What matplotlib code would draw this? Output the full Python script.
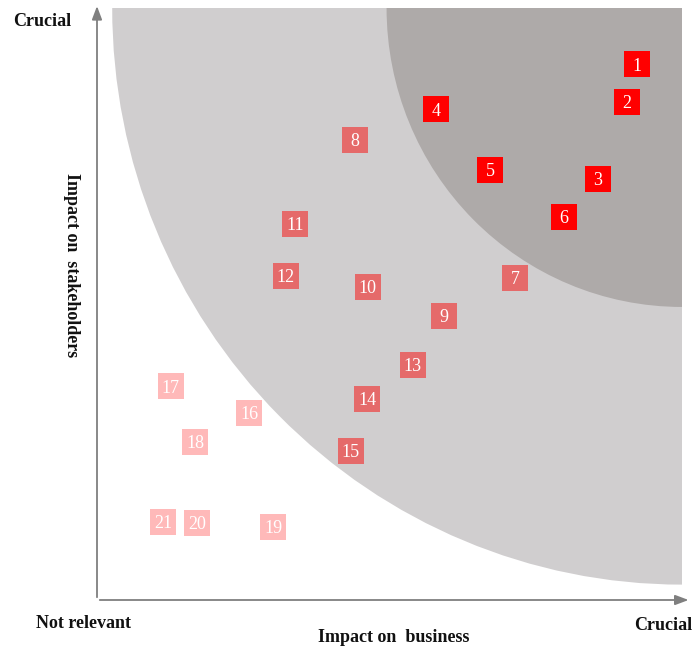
import matplotlib.pyplot as plt
from matplotlib.patches import Wedge

# issue ids and their position (impact on business, impact on stakeholders)
labels = [str(i) for i in range(1, 22)]
business = [9.23, 9.06, 8.56, 5.79, 6.72, 7.98, 7.15, 4.41, 5.93, 4.63, 3.38,
            3.23, 5.40, 4.62, 4.34, 2.60, 1.26, 1.68, 3.01, 1.71, 1.13]
stakeholders = [9.05, 8.41, 7.11, 8.29, 7.26, 6.47, 5.44, 7.77, 4.80, 5.29, 6.35,
                5.47, 3.97, 3.40, 2.52, 3.16, 3.61, 2.67, 1.23, 1.30, 1.32]
# priority group: 0 = high, 1 = medium, 2 = low
group = [0] * 6 + [1] * 9 + [2] * 6
group_colors = ['#FF0000', '#E56A6A', '#FFB9B9']


def main():
    fig = plt.figure(figsize=(6.99, 6.55), dpi=100)
    W, H = 699, 655
    # axes origin at px (97, 600), x=10 at px 682, y=10 at px 8
    ax = fig.add_axes([97 / W, 1 - 600 / H, (682 - 97) / W, (600 - 8) / H])
    ax.set_xlim(0, 10)
    ax.set_ylim(0, 10)
    ax.axis('off')

    # quarter-circle zones around the top-right corner
    ax.add_patch(Wedge((10, 10), 9.74, 180, 270, facecolor='#D0CECF', edgecolor='none', zorder=1))
    ax.add_patch(Wedge((10, 10), 5.05, 180, 270, facecolor='#AEAAA9', edgecolor='none', zorder=2))

    # axes arrows
    arrow = dict(arrowstyle='-|>,head_length=0.8,head_width=0.3', color='#7F7F7F', lw=1.3)
    ax.annotate('', xy=(10.16, 0), xytext=(0, 0), arrowprops=arrow, annotation_clip=False)
    ax.annotate('', xy=(0, 10.08), xytext=(0, 0), arrowprops=arrow, annotation_clip=False)

    colors = [group_colors[g] for g in group]
    ax.scatter(business, stakeholders, marker='s', s=355, c=colors,
               edgecolors='none', zorder=3, clip_on=False)
    for lab, x, y in zip(labels, business, stakeholders):
        ax.text(x, y - 0.03, lab, color='white', ha='center', va='center',
                fontsize=13, family='Liberation Serif', zorder=4)

    bold = dict(family='Liberation Serif', fontweight='bold', fontsize=13, color='#111111')
    fig.text(42 / W, 1 - 22 / H, 'Crucial', ha='center', va='center', **bold)
    fig.text(84 / W, 1 - 623 / H, 'Not relevant', ha='center', va='center', **bold)
    fig.text(663 / W, 1 - 626 / H, 'Crucial', ha='center', va='center', **bold)
    fig.text(394 / W, 1 - 637 / H, 'Impact on  business', ha='center', va='center', **bold)
    fig.text(71 / W, 1 - 265 / H, 'Impact on  stakeholders', ha='center', va='center',
             rotation=-90, **bold)

    fig.savefig('out.png', dpi=100)


if __name__ == '__main__':
    main()
